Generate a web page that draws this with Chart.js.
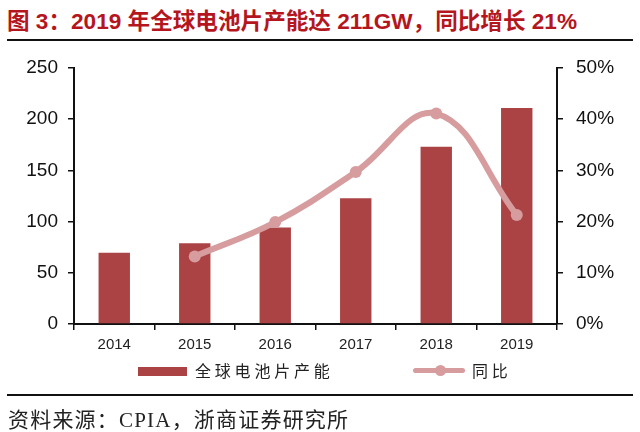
<!DOCTYPE html>
<html>
<head>
<meta charset="utf-8">
<script src="https://cdn.jsdelivr.net/npm/chart.js@4"></script>
<style>
  body { margin: 0; width: 640px; height: 432px; background: #fff; position: relative; overflow: hidden; font-family: "Liberation Sans", "Noto Sans CJK SC", sans-serif; }
  #title { position: absolute; left: 7px; top: 3px; font-size: 22.6px; font-weight: bold; color: #b5161e; white-space: nowrap; }
  .rule { position: absolute; left: 7px; width: 626px; height: 2px; background: #111; }
  #chartBox { position: absolute; left: 0; top: 0; width: 640px; height: 432px; }
  .leg { position: absolute; top: 359px; font-size: 16px; letter-spacing: 3.8px; color: #222; font-family: "Noto Sans CJK SC", sans-serif; line-height: 22px; white-space: nowrap; }
  #source { position: absolute; left: 8px; top: 403px; font-size: 21px; letter-spacing: 1.2px; color: #222; font-family: "Liberation Serif", "Noto Sans CJK SC", serif; white-space: nowrap; }
</style>
</head>
<body>
<div id="title">图 3：2019 年全球电池片产能达 211GW，同比增长 21%</div>
<div class="rule" style="top:39px"></div>
<div id="chartBox"><canvas id="capChart" width="640" height="432"></canvas></div>
<div style="position:absolute;left:138px;top:367px;width:49px;height:9px;background:#ab4345"></div>
<div class="leg" style="left:195px">全球电池片产能</div>
<div style="position:absolute;left:413px;top:368px;width:52px;height:5px;border-radius:3px;background:#d69c9e"></div>
<div style="position:absolute;left:435px;top:365px;width:11px;height:11px;border-radius:50%;background:#d69c9e"></div>
<div class="leg" style="left:472px">同比</div>
<div class="rule" style="top:394px"></div>
<div id="source">资料来源：CPIA，浙商证券研究所</div>
<script>
const years = ['2014', '2015', '2016', '2017', '2018', '2019'];
const capacity = [69.7, 78.9, 94.2, 122.8, 173, 211];   // GW
const growth = [null, 13.2, 19.9, 29.7, 41.1, 21.3];    // %

const barColor = '#ab4345';
const lineColor = '#d69c9e';

const ctx = document.getElementById('capChart').getContext('2d');
const capChart = new Chart(ctx, {
    data: {
        labels: years,
        datasets: [
            {
                type: 'line',
                label: '同比',
                data: growth,
                yAxisID: 'y1',
                borderColor: lineColor,
                backgroundColor: lineColor,
                borderWidth: 6,
                pointRadius: 6,
                pointBackgroundColor: lineColor,
                pointBorderWidth: 0,
                tension: 0.4,
                order: 0
            },
            {
                type: 'bar',
                label: '全球电池片产能',
                data: capacity,
                yAxisID: 'y',
                backgroundColor: barColor,
                categoryPercentage: 1,
                barPercentage: 0.39,
                order: 1
            }
        ]
    },
    options: {
        responsive: false,
        animation: false,
        layout: { padding: { left: 0, right: 0, top: 68, bottom: 82 } },
        plugins: { legend: { display: false }, tooltip: { enabled: false } },
        scales: {
            x: {
                offset: true,
                grid: { offset: true, drawOnChartArea: false, tickLength: 6, color: '#111', lineWidth: 1.5 },
                border: { color: '#111', width: 2 },
                ticks: { color: '#222', font: { family: 'Liberation Sans', size: 15 }, padding: 6 },
                afterFit: s => { s.height = 26; }
            },
            y: {
                position: 'left',
                min: 0, max: 250,
                ticks: { stepSize: 50, color: '#111', font: { family: 'Liberation Sans', size: 19 }, padding: 10 },
                grid: { drawOnChartArea: false, tickLength: 6, color: '#111', lineWidth: 1.5 },
                border: { color: '#111', width: 2 },
                afterFit: s => { s.width = 74; }
            },
            y1: {
                position: 'right',
                min: 0, max: 50,
                ticks: { stepSize: 10, color: '#111', font: { family: 'Liberation Sans', size: 19 }, padding: 13, callback: v => v + '%' },
                grid: { drawOnChartArea: false, tickLength: 6, color: '#111', lineWidth: 1.5 },
                border: { color: '#111', width: 2 },
                afterFit: s => { s.width = 83; }
            }
        }
    }
});
</script>
</body>
</html>
